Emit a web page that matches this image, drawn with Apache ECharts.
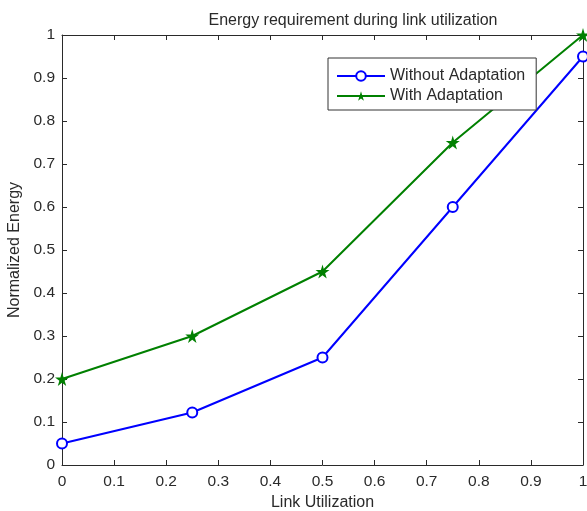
<!DOCTYPE html>
<html>
<head>
<meta charset="utf-8">
<script src="https://cdn.jsdelivr.net/npm/echarts@6/dist/echarts.min.js"></script>
<style>
  html, body { margin: 0; padding: 0; background: #fff; }
  #chart { width: 587px; height: 511px; }
</style>
</head>
<body>
<div id="chart"></div>
<script>
// link utilization (x) and normalized energy for both cases
var utilization = [0, 0.25, 0.5, 0.75, 1];
var withoutAdaptation = [0.05, 0.122, 0.25, 0.6, 0.95];
var withAdaptation = [0.2, 0.3, 0.45, 0.75, 1.0];

var starPath = 'path://M50,0 L61,35 L98,35 L68,57 L79,91 L50,70 L21,91 L32,57 L2,35 L39,35 Z';

function pairs(xs, ys) {
  return xs.map(function (x, i) { return [x, ys[i]]; });
}

var axisText = { color: '#2a2a2a', fontFamily: 'Liberation Sans', fontSize: 15.5 };
var axisLine = { show: true, onZero: false, lineStyle: { color: '#2a2a2a', width: 1 } };
var tickIn = { show: true, inside: true, length: 5, lineStyle: { color: '#2a2a2a' } };

var chart = echarts.init(document.getElementById('chart'));
chart.setOption({
  animation: false,
  backgroundColor: '#fff',
  title: {
    text: 'Energy requirement during link utilization',
    left: 348, top: 8, textAlign: 'center',
    textStyle: { fontFamily: 'Liberation Sans', fontSize: 16, fontWeight: 'normal', color: '#2a2a2a' }
  },
  grid: { left: 62, right: 4, top: 35, bottom: 46, outerBoundsMode: 'none', containLabel: false },
  legend: {
    left: 328, top: 58,
    orient: 'vertical',
    padding: [10, 11, 6, 8],
    itemGap: 4,
    itemWidth: 48, itemHeight: 12,
    borderColor: '#333', borderWidth: 1, borderRadius: 0,
    backgroundColor: '#fff',
    textStyle: { fontFamily: 'Liberation Sans', fontSize: 16, color: '#2a2a2a' },
    data: ['Without Adaptation', 'With Adaptation']
  },
  xAxis: [{
    type: 'value', min: 0, max: 1, interval: 0.1,
    name: 'Link Utilization', nameLocation: 'middle', nameGap: 27,
    nameTextStyle: Object.assign({}, axisText, { fontSize: 16 }),
    axisLine: axisLine, axisTick: tickIn, splitLine: { show: false },
    axisLabel: Object.assign({ margin: 9 }, axisText)
  }, {
    type: 'value', min: 0, max: 1, interval: 0.1, position: 'top',
    axisLine: axisLine, axisTick: tickIn, splitLine: { show: false },
    axisLabel: { show: false }
  }],
  yAxis: [{
    type: 'value', min: 0, max: 1, interval: 0.1,
    name: 'Normalized Energy', nameLocation: 'middle', nameGap: 39,
    nameTextStyle: Object.assign({}, axisText, { fontSize: 16 }),
    axisLine: axisLine, axisTick: tickIn, splitLine: { show: false },
    axisLabel: Object.assign({ margin: 7 }, axisText)
  }, {
    type: 'value', min: 0, max: 1, interval: 0.1, position: 'right',
    axisLine: axisLine, axisTick: tickIn, splitLine: { show: false },
    axisLabel: { show: false }
  }],
  series: [{
    name: 'Without Adaptation',
    type: 'line',
    data: pairs(utilization, withoutAdaptation),
    symbol: 'circle', symbolSize: 10,
    showAllSymbol: true,
    lineStyle: { color: '#0000ff', width: 2 },
    itemStyle: { color: '#fff', borderColor: '#0000ff', borderWidth: 2 }
  }, {
    name: 'With Adaptation',
    type: 'line',
    data: pairs(utilization, withAdaptation),
    symbol: starPath, symbolSize: 14,
    showAllSymbol: true,
    lineStyle: { color: '#008000', width: 2 },
    itemStyle: { color: '#008000' }
  }]
});
</script>
</body>
</html>
